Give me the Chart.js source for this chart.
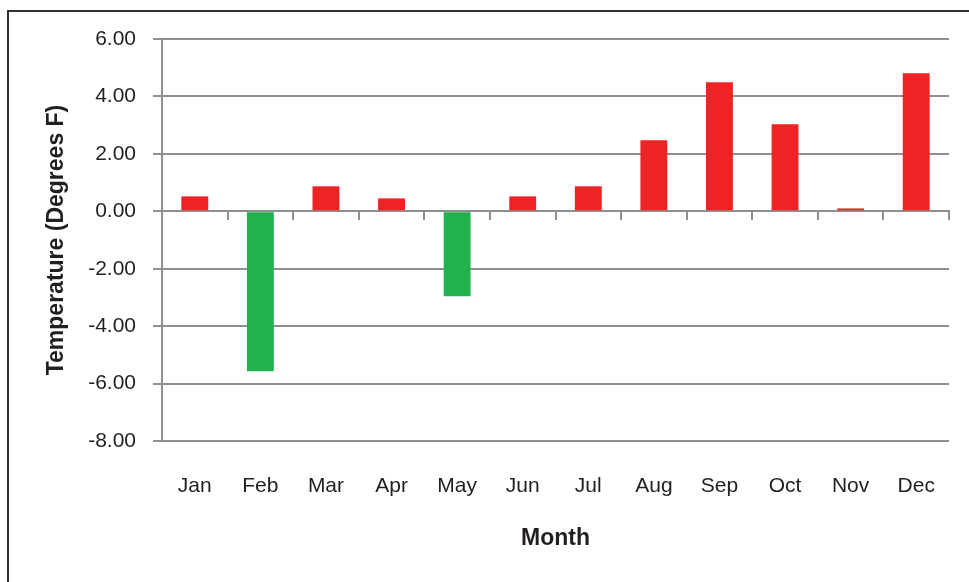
<!DOCTYPE html>
<html>
<head>
<meta charset="utf-8">
<script src="https://cdn.jsdelivr.net/npm/chart.js@4/dist/chart.umd.min.js"></script>
<style>
  html, body { margin: 0; padding: 0; background: #fff; overflow: hidden; }
  #wrap { position: relative; width: 969px; height: 582px; }
  #frame { position: absolute; left: 7px; top: 10px; width: 1000px; height: 600px; border: 2px solid #333; box-sizing: border-box; pointer-events: none; }
  canvas { position: absolute; left: 0; top: 0; }
</style>
</head>
<body>
<div id="wrap">
  <div id="frame"></div>
  <canvas id="grafica" width="969" height="582"></canvas>
</div>
<script>
/* datos */
const meses = ['Jan', 'Feb', 'Mar', 'Apr', 'May', 'Jun', 'Jul', 'Aug', 'Sep', 'Oct', 'Nov', 'Dec'];
const anomalias = [0.52, -5.57, 0.87, 0.45, -2.96, 0.52, 0.87, 2.47, 4.49, 3.03, 0.10, 4.81];
const yMin = -8, yMax = 6, yPaso = 2;
const tituloX = 'Month';
const tituloY = 'Temperature (Degrees F)';

const rojo = '#ee2325';
const verde = '#21b14f';
const gris = '#8f8f91';
const texto = '#231f20';

const ctx = document.getElementById('grafica').getContext('2d');

let chart = new Chart(ctx, {
  type: 'bar',
  data: {
    labels: meses,
    datasets: [{
      data: anomalias,
      backgroundColor: anomalias.map(v => v < 0 ? verde : rojo),
      barPercentage: 0.41,
      categoryPercentage: 1
    }]
  },
  options: {
    responsive: false,
    animation: false,
    layout: { padding: { top: 39, right: 20, left: 0, bottom: 0 } },
    plugins: { legend: { display: false }, tooltip: { enabled: false } },
    scales: {
      // eje en el cero: solo las marcas entre meses
      x: {
        type: 'category',
        position: { y: 0 },
        offset: true,
        grid: { offset: true, drawOnChartArea: false, drawTicks: true, tickLength: 8, color: gris, lineWidth: 2 },
        border: { display: true, color: gris, width: 2 },
        ticks: { display: false }
      },
      // etiquetas abajo
      x2: {
        type: 'category',
        position: 'bottom',
        offset: true,
        grid: { display: false, drawTicks: false },
        border: { display: false },
        ticks: { padding: 33, color: texto, font: { family: 'Liberation Sans, Arial', size: 21 }, maxRotation: 0, autoSkip: false },
        title: { display: true, text: tituloX, color: texto, font: { family: 'Liberation Sans, Arial', size: 23, weight: 'bold' }, padding: { top: 0, bottom: 30 } },
        afterFit: function(scale) { scale.height = 141; }
      },
      y: {
        min: yMin,
        max: yMax,
        ticks: {
          stepSize: yPaso,
          padding: 17,
          color: texto,
          font: { family: 'Liberation Sans, Arial', size: 21 },
          callback: v => v.toFixed(2)
        },
        grid: { color: gris, lineWidth: 2, tickLength: 9 },
        border: { display: true, color: gris, width: 2 },
        title: { display: true, text: tituloY, color: texto, font: { family: 'Liberation Sans, Arial', size: 23, weight: 'bold' }, padding: { top: 43, bottom: 0 } },
        afterFit: function(scale) { scale.width = 162; }
      }
    }
  }
});
</script>
</body>
</html>
